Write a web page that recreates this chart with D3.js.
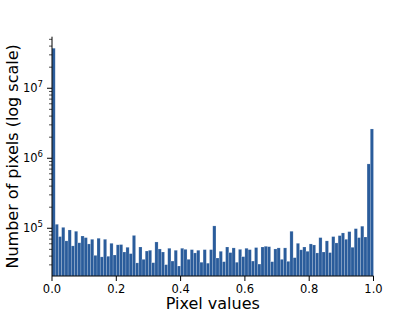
<!DOCTYPE html>
<html>
<head>
<meta charset="utf-8">
<script src="https://cdn.jsdelivr.net/npm/d3@7"></script>
<style>
  body { margin: 0; background: #fff; }
  text { font-family: "DejaVu Sans", sans-serif; }
</style>
</head>
<body>
<div id="chart"></div>
<script>
// histogram counts, 100 bins over [0, 1]
const binCount = 100;
const counts = [
  3.73e7, 1.14e5, 7.6e4, 1.03e5, 6.6e4, 9.45e4, 5.6e4, 9.06e4, 6.2e4, 7.75e4,
  7.35e4, 5.97e4, 6.96e4, 4.1e4, 7.2e4, 3.9e4, 6.96e4, 3.98e4, 6.1e4, 4.15e4,
  5.8e4, 5.85e4, 4.58e4, 5.35e4, 4.34e4, 7.9e4, 3.2e4, 5.4e4, 3.6e4, 4.73e4,
  4.85e4, 3.22e4, 6.37e4, 5.06e4, 4.58e4, 3.02e4, 5.18e4, 3.4e4, 4.85e4, 2.89e4,
  5.18e4, 5.0e4, 3.6e4, 4.95e4, 4.44e4, 4.85e4, 3.27e4, 4.95e4, 3.17e4, 4.95e4,
  1.08e5, 3.76e4, 4.69e4, 3.33e4, 5.4e4, 4.49e4, 5.24e4, 3.27e4, 5.0e4, 3.93e4,
  5.18e4, 4.95e4, 3.4e4, 5.3e4, 3.08e4, 5.4e4, 5.53e4, 5.45e4, 3.33e4, 5.06e4,
  5.24e4, 3.6e4, 5.24e4, 3.37e4, 9.06e4, 3.8e4, 6.1e4, 4.92e4, 5.4e4, 4.69e4,
  5.97e4, 5.77e4, 4.44e4, 7.35e4, 4.58e4, 6.6e4, 4.49e4, 7.6e4, 6.17e4, 7.85e4,
  8.57e4, 6.96e4, 8.95e4, 5.35e4, 9.87e4, 7.35e4, 1.07e5, 7.5e4, 8.3e5, 2.62e6
];
const xTicks = [0, 0.2, 0.4, 0.6, 0.8, 1.0];
const yMajor = [1e5, 1e6, 1e7];

const width = 415, height = 311;
const plotLeft = 52, plotRight = 373.5, plotTop = 36.7, plotBottom = 276;

const svg = d3.select('#chart').append('svg')
  .attr('width', width)
  .attr('height', height);

const x = d3.scaleLinear().domain([0, 1]).range([plotLeft, plotRight]);
const y = d3.scaleLog().domain([2.08e4, 5.45e7]).range([plotBottom, plotTop]);

// bars
svg.append('g')
  .selectAll('rect')
  .data(counts)
  .join('rect')
  .attr('x', (d, i) => x(i / binCount))
  .attr('width', x(1 / binCount) - x(0))
  .attr('y', d => y(d))
  .attr('height', d => plotBottom - y(d))
  .attr('fill', '#2a5c9b')
  .attr('stroke', '#ffffff')
  .attr('stroke-opacity', 0.3)
  .attr('stroke-width', 0.6);

// x axis
const xAxis = svg.append('g');
xAxis.append('line')
  .attr('x1', plotLeft).attr('x2', plotRight)
  .attr('y1', plotBottom).attr('y2', plotBottom)
  .attr('stroke', '#000').attr('stroke-width', 1);
xAxis.selectAll('line.tick')
  .data(xTicks)
  .join('line')
  .attr('class', 'tick')
  .attr('x1', d => x(d)).attr('x2', d => x(d))
  .attr('y1', plotBottom).attr('y2', plotBottom + 5)
  .attr('stroke', '#000').attr('stroke-width', 1);
xAxis.selectAll('text')
  .data(xTicks)
  .join('text')
  .attr('x', d => x(d))
  .attr('y', plotBottom + 17)
  .attr('text-anchor', 'middle')
  .attr('font-size', 11.5)
  .text(d => d.toFixed(1));

// y axis
const yAxis = svg.append('g');
yAxis.append('line')
  .attr('x1', plotLeft).attr('x2', plotLeft)
  .attr('y1', plotTop).attr('y2', plotBottom)
  .attr('stroke', '#000').attr('stroke-width', 1);

const [yLo, yHi] = y.domain();
const yMinor = [];
for (let e = 4; e <= 7; e++) {
  for (let m = 2; m <= 9; m++) {
    const v = m * Math.pow(10, e);
    if (v >= yLo && v <= yHi) yMinor.push(v);
  }
}
yAxis.selectAll('line.minor')
  .data(yMinor)
  .join('line')
  .attr('class', 'minor')
  .attr('x1', plotLeft - 3).attr('x2', plotLeft)
  .attr('y1', d => y(d)).attr('y2', d => y(d))
  .attr('stroke', '#000').attr('stroke-width', 0.7);
yAxis.selectAll('line.major')
  .data(yMajor)
  .join('line')
  .attr('class', 'major')
  .attr('x1', plotLeft - 5).attr('x2', plotLeft)
  .attr('y1', d => y(d)).attr('y2', d => y(d))
  .attr('stroke', '#000').attr('stroke-width', 1);

const yLabels = yAxis.selectAll('text')
  .data(yMajor)
  .join('text')
  .attr('x', plotLeft - 9)
  .attr('y', d => y(d) + 4)
  .attr('text-anchor', 'end')
  .attr('font-size', 11.5);
yLabels.append('tspan').text('10');
yLabels.append('tspan')
  .attr('dy', -5)
  .attr('font-size', 8.5)
  .text(d => Math.round(Math.log10(d)));

// axis titles
svg.append('text')
  .attr('x', (plotLeft + plotRight) / 2)
  .attr('y', 309)
  .attr('text-anchor', 'middle')
  .attr('font-size', 16)
  .text('Pixel values');

svg.append('text')
  .attr('transform', `translate(18, ${(plotTop + plotBottom) / 2}) rotate(-90)`)
  .attr('text-anchor', 'middle')
  .attr('font-size', 16)
  .text('Number of pixels (log scale)');
</script>
</body>
</html>
